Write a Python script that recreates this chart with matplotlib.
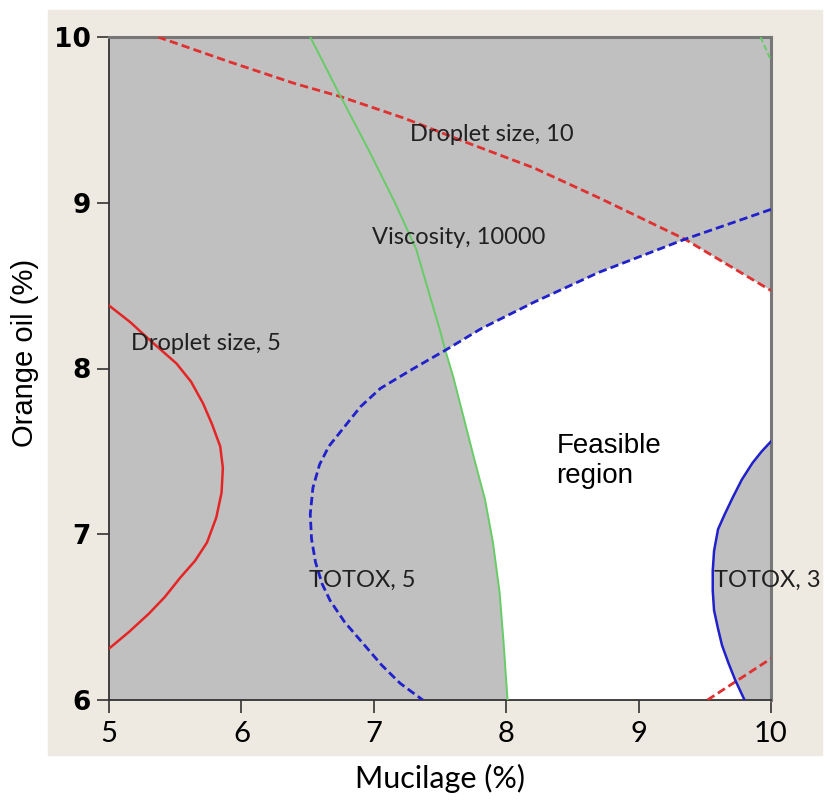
import numpy as np
import matplotlib.pyplot as plt
from matplotlib.patches import Rectangle

# contour lines (Mucilage %, Orange oil %)
drop10_x = [5.37, 5.91, 6.40, 6.75, 7.23, 7.68, 8.21, 8.70, 9.35, 10.0]
drop10_y = [10.0, 9.85, 9.72, 9.64, 9.51, 9.37, 9.21, 9.03, 8.78, 8.47]

drop10b_x = [9.52, 9.75, 10.0]
drop10b_y = [6.0, 6.12, 6.25]

drop5_x = [5.0, 5.16, 5.31, 5.51, 5.62, 5.71, 5.78, 5.84, 5.86, 5.85, 5.81,
           5.74, 5.65, 5.54, 5.42, 5.30, 5.15, 5.0]
drop5_y = [8.38, 8.28, 8.17, 8.03, 7.92, 7.79, 7.66, 7.53, 7.40, 7.25, 7.10,
           6.95, 6.84, 6.74, 6.62, 6.52, 6.41, 6.31]

visc_x = [6.52, 6.75, 6.96, 7.16, 7.32, 7.50, 7.54, 7.60, 7.68, 7.76, 7.84,
          7.90, 7.95, 7.98, 8.01]
visc_y = [10.0, 9.64, 9.32, 9.0, 8.72, 8.23, 8.11, 7.95, 7.70, 7.45, 7.21,
          6.95, 6.65, 6.35, 6.0]

visc2_x = [9.92, 10.0]
visc2_y = [10.0, 9.86]

totox5_x = [10.0, 9.35, 8.70, 8.21, 7.81, 7.54, 7.30, 7.05, 6.90, 6.77, 6.66,
            6.59, 6.54, 6.52, 6.53, 6.56, 6.61, 6.67, 6.78, 6.92, 7.06, 7.20, 7.37]
totox5_y = [8.96, 8.78, 8.58, 8.40, 8.24, 8.11, 8.0, 7.88, 7.77, 7.64, 7.53,
            7.42, 7.28, 7.12, 6.97, 6.83, 6.70, 6.60, 6.47, 6.34, 6.21, 6.10, 6.0]

totox3_x = [10.0, 9.93, 9.86, 9.78, 9.71, 9.65, 9.60, 9.57, 9.56, 9.56, 9.57,
            9.60, 9.63, 9.68, 9.73, 9.80]
totox3_y = [7.56, 7.50, 7.43, 7.33, 7.22, 7.12, 7.03, 6.90, 6.78, 6.66, 6.54,
            6.43, 6.33, 6.22, 6.12, 6.0]

xticks = [5, 6, 7, 8, 9, 10]
yticks = [6, 7, 8, 9, 10]

fig = plt.figure(figsize=(8.25, 8.02), dpi=100)
fig.patch.set_facecolor('white')
fig.patches.append(Rectangle((48/825, 1-755/802), 774/825, 745/802,
                             transform=fig.transFigure, color='#eeeae1', zorder=-10))

ax = fig.add_axes([109/825, 1-700/802, 662/825, 663/802])
ax.set_facecolor('#c0c0c0')

# feasible region, pieced together from the curves
vx, vy = np.array(visc_x), np.array(visc_y)
t3x, t3y = np.array(totox3_x)[::-1], np.array(totox3_y)[::-1]
d10x, d10y = np.array(drop10_x)[::-1], np.array(drop10_y)[::-1]
t5x, t5y = np.array(totox5_x), np.array(totox5_y)
m_v = vy <= 8.11
m_d = d10x >= 9.35
m_t = (t5x <= 9.35) & (t5x >= 7.54) & (t5y >= 8.11)
px = np.concatenate([vx[m_v], t3x, d10x[m_d], t5x[m_t]])
py = np.concatenate([vy[m_v], t3y, d10y[m_d], t5y[m_t]])
ax.fill(px, py, color='white', zorder=1, lw=0)

dash = (0, (3, 1.5))
ax.plot(drop10_x, drop10_y, color='#e03030', lw=2, ls=dash, zorder=3)
ax.plot(drop10b_x, drop10b_y, color='#e03030', lw=2, ls=dash, zorder=3)
ax.plot(drop5_x, drop5_y, color='#e52525', lw=1.8, zorder=3)
ax.plot(visc_x, visc_y, color='#66cc66', lw=1.4, zorder=3)
ax.plot(visc2_x, visc2_y, color='#66cc66', lw=1.4, ls=dash, zorder=3)
ax.plot(totox5_x, totox5_y, color='#2020cc', lw=2, ls=dash, zorder=3)
ax.plot(totox3_x, totox3_y, color='#2020cc', lw=1.8, zorder=3)

lab = dict(family='Lato', fontsize=17, color='#202020', zorder=4)
ax.text(7.89, 9.41, 'Droplet size, 10', ha='center', va='center', **lab)
ax.text(7.64, 8.79, 'Viscosity, 10000', ha='center', va='center', **lab)
ax.text(5.73, 8.15, 'Droplet size, 5', ha='center', va='center', **lab)
ax.text(6.91, 6.72, 'TOTOX, 5', ha='center', va='center', **lab)
ax.text(9.57, 6.72, 'TOTOX, 3', ha='left', va='center', clip_on=False, **lab)
ax.text(8.38, 7.44, 'Feasible\nregion', va='center', family='Liberation Sans',
        fontsize=20, color='black', linespacing=1.2, zorder=4)

ax.set_xlim(5, 10)
ax.set_ylim(6, 10)
ax.set_xticks(xticks)
ax.set_yticks(yticks)
ax.tick_params(direction='out', length=9, width=1.2, color='#333333')
for t in ax.get_xticklabels():
    t.set_family('Lato')
    t.set_fontsize(21)
for t in ax.get_yticklabels():
    t.set_family('DejaVu Sans')
    t.set_fontweight('bold')
    t.set_fontsize(19)
ax.tick_params(axis='x', pad=6)
ax.tick_params(axis='y', pad=4)

for s in ['left', 'bottom']:
    ax.spines[s].set_color('#333333')
    ax.spines[s].set_linewidth(1.3)
for s in ['top', 'right']:
    ax.spines[s].set_color('#777777')
    ax.spines[s].set_linewidth(2.2)

fig.text(440/825, 1-778/802, 'Mucilage (%)', ha='center', va='center',
         family='Lato', fontsize=22)
fig.text(25/825, 1-353/802, 'Orange oil (%)', ha='center', va='center',
         rotation=90, family='Liberation Sans', fontsize=21)

fig.savefig('out.png', dpi=100, facecolor='white')
